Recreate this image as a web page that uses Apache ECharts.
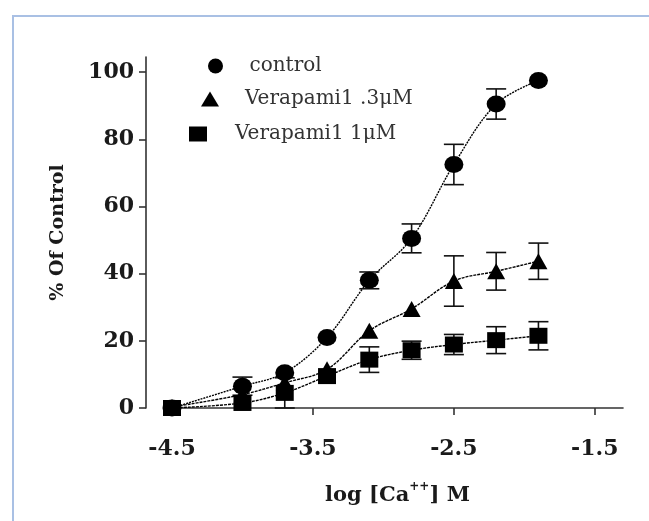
<!DOCTYPE html>
<html>
  <head>
    <meta charset="utf-8" />
    <title>Ca++ response</title>
    <script src="https://cdn.jsdelivr.net/npm/echarts@6/dist/echarts.min.js"></script>
  </head>
  <body style="margin:0">
    <div id="main" style="width: 649px;height:521px;"></div>
    <script type="text/javascript">
// data
var logCa = [-4.5, -4.0, -3.7, -3.4, -3.1, -2.8, -2.5, -2.2, -1.9];
var control = [0, 6.5, 10.5, 21, 38, 50.5, 72.5, 90.5, 97.5];
var controlErr = [0, 2.7, 0, 0, 2.5, 4.3, 6, 4.5, 0];
var vera03 = [0.3, 4, 7.5, 11.5, 23, 29.5, 37.8, 40.7, 43.7];
var vera03Err = [0, 0, 0, 0, 0, 0, 7.5, 5.6, 5.4];
var vera1 = [0, 1.5, 4.5, 9.5, 14.4, 17.2, 18.9, 20.2, 21.5];
var vera1Err = [0, 0, 4.5, 0, 3.8, 2.7, 3, 4, 4.2];
var seriesNames = ['control', 'Verapami1 .3\u03bcM', 'Verapami1 1\u03bcM'];
var xTicks = [-4.5, -3.5, -2.5, -1.5];
var yTicks = [0, 20, 40, 60, 80, 100];

var myChart = echarts.init(document.getElementById('main'));

function pairs(ys) {
  return logCa.map(function (x, i) { return [x, ys[i]]; });
}
function errData(ys, es) {
  return logCa.map(function (x, i) { return [x, ys[i], es[i]]; });
}
function errorBars(params, api) {
  var x = api.value(0), y = api.value(1), e = api.value(2);
  if (!e) return null;
  var hi = api.coord([x, y + e]);
  var lo = api.coord([x, y - e]);
  var st = { stroke: '#111', lineWidth: 1.6 };
  return {
    type: 'group',
    children: [
      { type: 'line', shape: { x1: hi[0], y1: hi[1], x2: lo[0], y2: lo[1] }, style: st },
      { type: 'line', shape: { x1: hi[0] - 10, y1: hi[1], x2: hi[0] + 10, y2: hi[1] }, style: st },
      { type: 'line', shape: { x1: lo[0] - 10, y1: lo[1], x2: lo[0] + 10, y2: lo[1] }, style: st }
    ]
  };
}

var serif = 'DejaVu Serif';
function legendAt(name, left, top, gap) {
  return {
    data: [name], left: left, top: top, padding: 0,
    itemWidth: 18, itemHeight: 15, selectedMode: false,
    formatter: function (n) { return '{g|}' + n; },
    textStyle: {
      fontFamily: serif, fontSize: 20, color: '#333',
      rich: { g: { width: gap } }
    }
  };
}
function fitLine(name, ys, dash) {
  return {
    name: name, type: 'line', data: pairs(ys), smooth: 0.35, showSymbol: false, silent: true, z: 1,
    lineStyle: { color: '#000', width: 1.4, type: dash }
  };
}

myChart.setOption({
  animation: false,
  graphic: [{
    type: 'polyline',
    shape: { points: [[13, 521], [13, 16], [649, 16]] },
    style: { stroke: '#a9c0e4', lineWidth: 2, fill: 'none' }
  }],
  legend: [
    legendAt(seriesNames[0], 208, 56, 20),
    legendAt(seriesNames[1], 201, 89, 21),
    legendAt(seriesNames[2], 189, 124, 23)
  ],
  grid: { left: 172, right: 26, top: 57, bottom: 113 },
  xAxis: {
    type: 'value', min: -4.5, max: -1.3, offset: 18,
    name: '{b|log [Ca}{sup|++}{b|] M}',
    nameLocation: 'middle', nameGap: 55,
    nameTextStyle: {
      rich: {
        b: { fontFamily: serif, fontSize: 21, fontWeight: 'bold', color: '#1a1a1a', verticalAlign: 'bottom' },
        sup: { fontFamily: serif, fontSize: 12, fontWeight: 'bold', color: '#1a1a1a', verticalAlign: 'bottom', padding: [0, 0, 13, 0] }
      }
    },
    axisLine: { lineStyle: { color: '#333', width: 1.6 } },
    axisTick: { customValues: xTicks, length: 7, lineStyle: { color: '#333', width: 1.6 } },
    axisLabel: { customValues: xTicks, margin: 12, fontFamily: serif, fontSize: 22, fontWeight: 'bold', color: '#1a1a1a' },
    splitLine: { show: false }
  },
  yAxis: {
    type: 'value', min: 0, max: 104.5, offset: 26,
    name: '% Of Control',
    nameLocation: 'middle', nameRotate: 90, nameGap: 78,
    nameTextStyle: { fontFamily: serif, fontSize: 19, fontWeight: 'bold', color: '#1a1a1a' },
    axisLine: { show: true, lineStyle: { color: '#333', width: 1.6 } },
    axisTick: { show: true, customValues: yTicks, length: 7, lineStyle: { color: '#333', width: 1.6 } },
    axisLabel: { customValues: yTicks, margin: 12, fontFamily: serif, fontSize: 22, fontWeight: 'bold', color: '#1a1a1a' },
    splitLine: { show: false }
  },
  series: [
    fitLine('control fit', control, [2, 1]),
    fitLine('vera03 fit', vera03, [3, 1]),
    fitLine('vera1 fit', vera1, [3, 1]),
    { type: 'custom', renderItem: errorBars, data: errData(control, controlErr), clip: false, z: 2, silent: true },
    { type: 'custom', renderItem: errorBars, data: errData(vera03, vera03Err), clip: false, z: 2, silent: true },
    { type: 'custom', renderItem: errorBars, data: errData(vera1, vera1Err), clip: false, z: 2, silent: true },
    { name: seriesNames[0], type: 'scatter', data: pairs(control), symbol: 'circle', symbolSize: [19, 17], z: 3,
      itemStyle: { color: '#000', opacity: 1 } },
    { name: seriesNames[1], type: 'scatter', data: pairs(vera03), symbol: 'triangle', symbolSize: [18, 16], z: 3,
      itemStyle: { color: '#000', opacity: 1 } },
    { name: seriesNames[2], type: 'scatter', data: pairs(vera1), symbol: 'rect', symbolSize: [18, 16], z: 3,
      itemStyle: { color: '#000', opacity: 1 } }
  ]
});
    </script>
  </body>
</html>
